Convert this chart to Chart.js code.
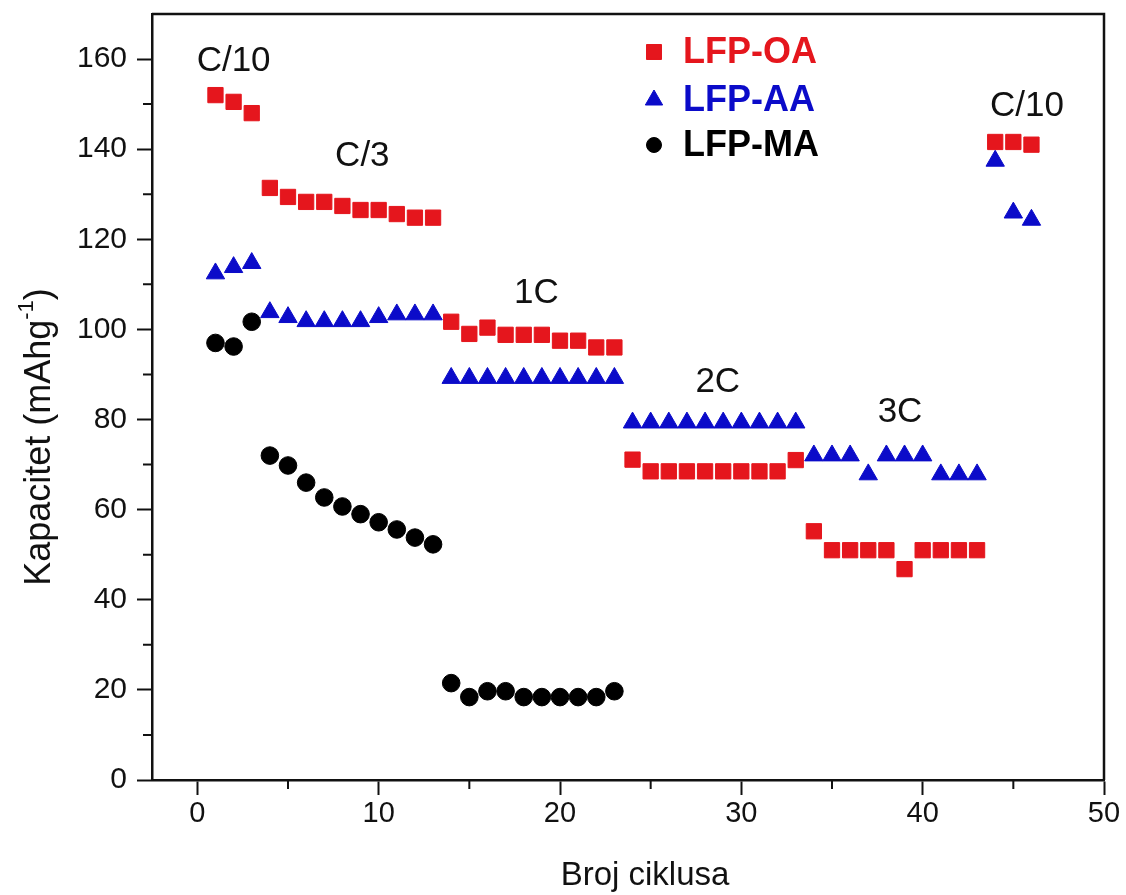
<!DOCTYPE html>
<html>
<head>
<meta charset="utf-8">
<title>Kapacitet</title>
<script src="https://cdn.jsdelivr.net/npm/chart.js@4.4.0/dist/chart.umd.min.js"></script>
<style>
  html, body { margin: 0; padding: 0; background: #fff; }
  #okvir { width: 1126px; height: 895px; }
</style>
</head>
<body>
<div id="okvir"><canvas id="grafik" width="1126" height="895"></canvas></div>
<script>
// vrijednosti ocitane sa slike (mAh/g po ciklusu, ciklus = indeks + 1)
const lfpOA = [152, 150.5, 148,
  131.4, 129.4, 128.3, 128.3, 127.4, 126.5, 126.5, 125.6, 124.8, 124.8,
  101.7, 99, 100.4, 98.8, 98.8, 98.8, 97.5, 97.5, 96, 96,
  71.1, 68.5, 68.5, 68.5, 68.5, 68.5, 68.5, 68.5, 68.5, 71,
  55.2, 51, 51, 51, 51, 46.8, 51, 51, 51, 51,
  141.6, 141.6, 141];
const lfpAA = [112.4, 113.8, 114.7,
  103.8, 102.7, 101.8, 101.8, 101.8, 101.8, 102.7, 103.3, 103.3, 103.3,
  89.2, 89.2, 89.2, 89.2, 89.2, 89.2, 89.2, 89.2, 89.2, 89.2,
  79.3, 79.3, 79.3, 79.3, 79.3, 79.3, 79.3, 79.3, 79.3, 79.3,
  72, 72, 72, 67.8, 72, 72, 72, 67.8, 67.8, 67.8,
  137.4, 125.9, 124.3];
const lfpMA = [97, 96.2, 101.7,
  72, 69.8, 66, 62.7, 60.7, 59, 57.2, 55.6, 53.8, 52.3,
  21.5, 18.4, 19.7, 19.7, 18.4, 18.4, 18.4, 18.4, 18.4, 19.7];

const xTicks = [0, 10, 20, 30, 40, 50];
const xMinor = [5, 15, 25, 35, 45];
const yTicks = [0, 20, 40, 60, 80, 100, 120, 140, 160];
const yMinor = [10, 30, 50, 70, 90, 110, 130, 150];

// oznake brzine punjenja (u koordinatama podataka)
const oznake = ['C/10', 'C/3', '1C', '2C', '3C', 'C/10'];
const oznakeX = [2.0, 9.1, 18.7, 28.7, 38.75, 45.75];
const oznakeY = [159.6, 138.5, 108.1, 88.2, 81.5, 149.6];

const crvena = '#e5161d';
const plava = '#0b0bc9';
const crna = '#000000';
const font = '"Liberation Sans", Arial, Helvetica, sans-serif';

function tacke(niz) {
  return niz.map((v, i) => ({ x: i + 1, y: v }));
}

const dodatak = {
  id: 'dodatak',
  afterDraw(chart) {
    const ctx = chart.ctx;
    const a = chart.chartArea;
    const sx = chart.scales.x, sy = chart.scales.y;
    ctx.save();
    // okvir gore i desno
    ctx.strokeStyle = '#111';
    ctx.lineWidth = 2.5;
    ctx.beginPath();
    ctx.moveTo(a.left, a.top);
    ctx.lineTo(a.right, a.top);
    ctx.lineTo(a.right, a.bottom);
    ctx.stroke();
    // sporedne crtice
    ctx.lineWidth = 2;
    ctx.beginPath();
    xMinor.forEach(v => {
      const px = sx.getPixelForValue(v);
      ctx.moveTo(px, a.bottom);
      ctx.lineTo(px, a.bottom + 9);
    });
    yMinor.forEach(v => {
      const py = sy.getPixelForValue(v);
      ctx.moveTo(a.left, py);
      ctx.lineTo(a.left - 9, py);
    });
    ctx.stroke();
    // oznake C/10, C/3 ...
    ctx.fillStyle = '#111';
    ctx.font = '35px ' + font;
    ctx.textAlign = 'center';
    ctx.textBaseline = 'middle';
    oznake.forEach((t, i) => {
      ctx.fillText(t, sx.getPixelForValue(oznakeX[i]), sy.getPixelForValue(oznakeY[i]));
    });
    // naslov x ose
    ctx.font = '33px ' + font;
    ctx.fillText('Broj ciklusa', 645, 876);
    // naslov y ose sa eksponentom
    ctx.save();
    ctx.translate(40, 437);
    ctx.rotate(-Math.PI / 2);
    const glavni = '36px ' + font, mali = '22px ' + font;
    const dijelovi = [['Kapacitet (mAhg', glavni, 0], ['-1', mali, -13], [')', glavni, 0]];
    let ukupno = 0;
    dijelovi.forEach(d => { ctx.font = d[1]; ukupno += ctx.measureText(d[0]).width; });
    let pos = -ukupno / 2;
    ctx.textAlign = 'left';
    dijelovi.forEach(d => {
      ctx.font = d[1];
      ctx.fillText(d[0], pos, d[2]);
      pos += ctx.measureText(d[0]).width;
    });
    ctx.restore();
    // legenda
    const redovi = [52, 100, 145];
    chart.data.datasets.forEach((ds, i) => {
      const y = redovi[i];
      ctx.fillStyle = ds.backgroundColor;
      ctx.strokeStyle = ds.backgroundColor;
      ctx.lineWidth = 1;
      Chart.helpers.drawPoint(ctx, {
        pointStyle: ds.pointStyle,
        radius: ds.legendRadius,
        borderWidth: 1
      }, 654, y);
      ctx.font = 'bold 36px ' + font;
      ctx.textAlign = 'left';
      ctx.textBaseline = 'middle';
      ctx.fillText(ds.label, 683, y + 1);
    });
    ctx.restore();
  }
};

// bez dodatnog razmaka koji Chart.js ostavlja za krajnje oznake
function bezRazmaka(s) {
  s.paddingTop = 0;
  s.paddingBottom = 0;
  s.paddingLeft = 0;
  s.paddingRight = 0;
}

const grafik = new Chart(document.getElementById('grafik'), {
  type: 'scatter',
  data: {
    datasets: [
      { label: 'LFP-OA', data: tacke(lfpOA), pointStyle: 'rect', pointRadius: 10.8,
        backgroundColor: crvena, borderColor: crvena, borderWidth: 1, legendRadius: 10.6, order: 2 },
      { label: 'LFP-AA', data: tacke(lfpAA), pointStyle: 'triangle', pointRadius: 10.6,
        backgroundColor: plava, borderColor: plava, borderWidth: 1, legendRadius: 10, order: 1 },
      { label: 'LFP-MA', data: tacke(lfpMA), pointStyle: 'circle', pointRadius: 8.8,
        backgroundColor: crna, borderColor: crna, borderWidth: 1, legendRadius: 7.5, order: 3 }
    ]
  },
  options: {
    responsive: false,
    animation: false,
    layout: { padding: { left: 0, right: 22, top: 14, bottom: 0 } },
    plugins: { legend: { display: false }, tooltip: { enabled: false } },
    scales: {
      x: {
        type: 'linear', min: -2.5, max: 50,
        afterBuildTicks: s => { s.ticks = xTicks.map(v => ({ value: v })); },
        afterFit: s => { s.height = 115; bezRazmaka(s); },
        grid: { drawOnChartArea: false, tickLength: 15, tickWidth: 2, tickColor: '#111' },
        border: { color: '#111', width: 2.5 },
        ticks: { font: { family: font, size: 29 }, color: '#111', padding: 2, maxRotation: 0 }
      },
      y: {
        type: 'linear', min: 0, max: 170,
        afterBuildTicks: s => { s.ticks = yTicks.map(v => ({ value: v })); },
        afterFit: s => { s.width = 152; bezRazmaka(s); },
        grid: { drawOnChartArea: false, tickLength: 15, tickWidth: 2, tickColor: '#111' },
        border: { color: '#111', width: 2.5 },
        ticks: { font: { family: font, size: 30 }, color: '#111', padding: 10 }
      }
    }
  },
  plugins: [dodatak]
});
</script>
</body>
</html>
